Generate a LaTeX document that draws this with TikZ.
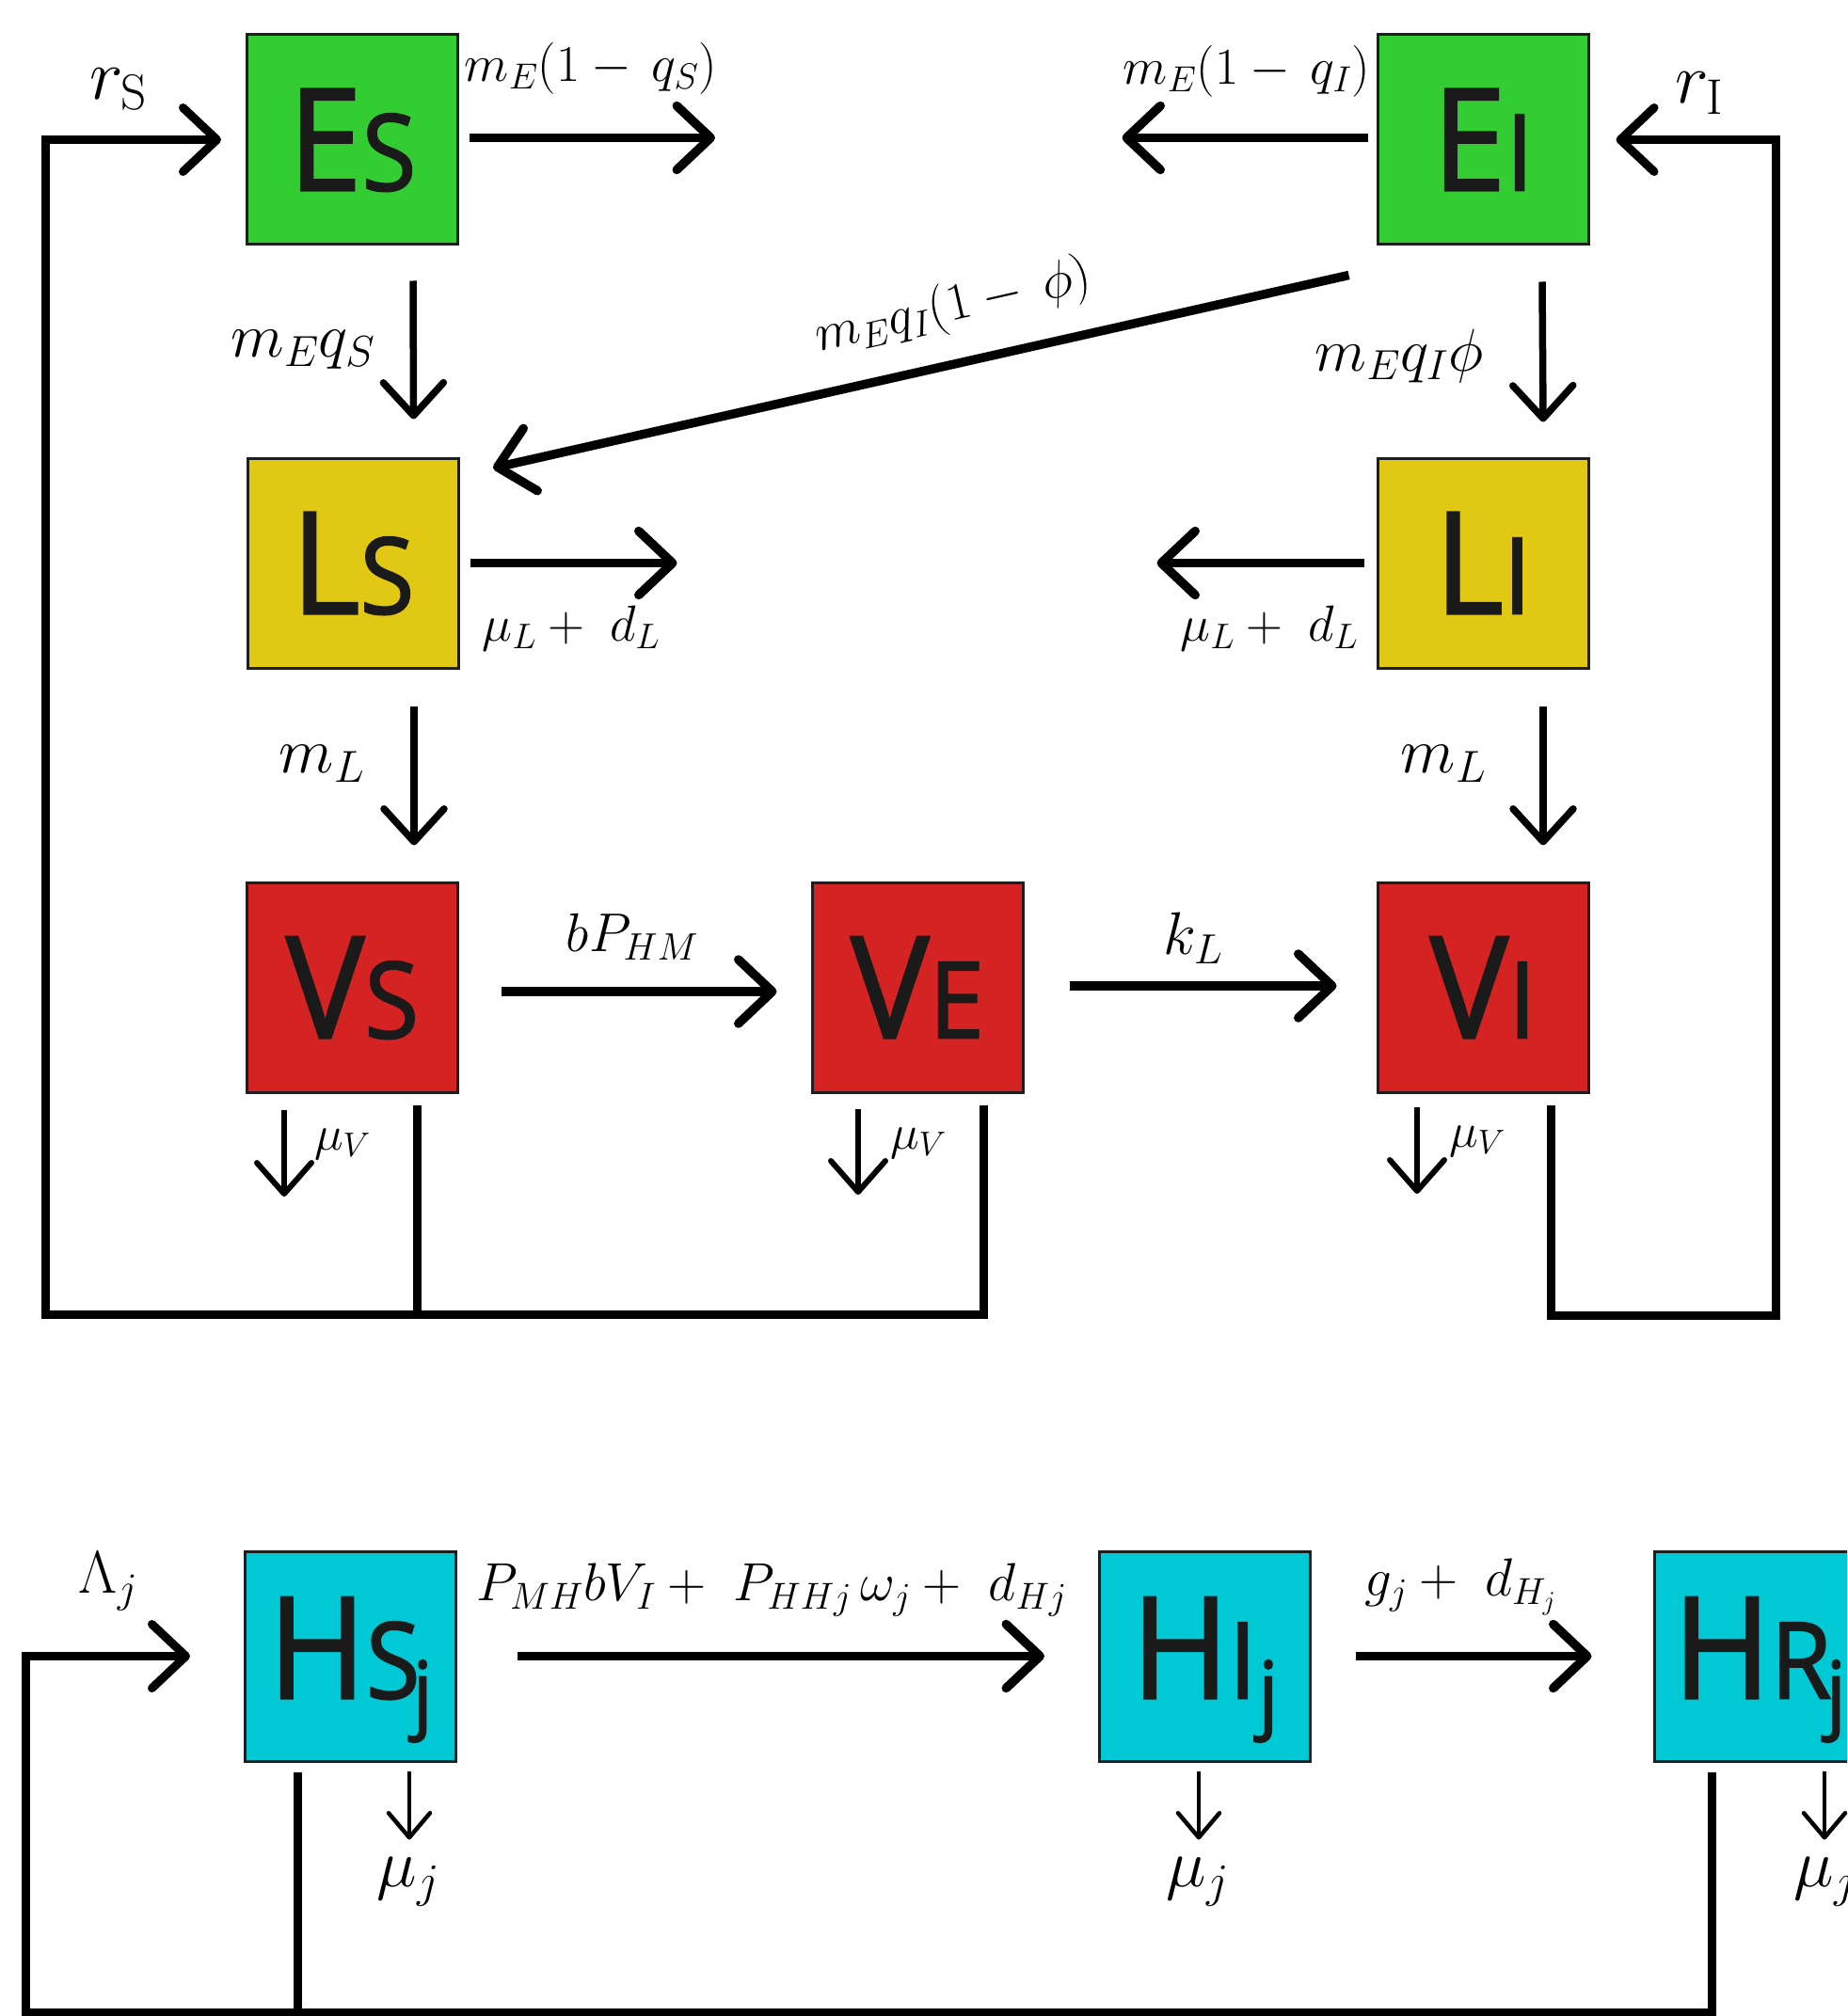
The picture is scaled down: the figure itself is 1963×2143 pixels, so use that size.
\RequirePackage{fix-cm}
\documentclass[tikz,border=0pt]{standalone}
\usepackage{fontspec}
\newfontfamily\boxfont[FakeBold=1.6, FakeStretch=0.93]{Open Sans}
\usetikzlibrary{arrows.meta}
\newcommand\fsz[1]{\fontsize{#1}{#1}\selectfont}
\definecolor{cgreen}{HTML}{33CC33}
\definecolor{cyellow}{HTML}{E1C814}
\definecolor{cred}{HTML}{D52323}
\definecolor{ccyan}{HTML}{00C8D4}
\definecolor{boxline}{HTML}{1E1E1E}
\definecolor{boxtxt}{HTML}{1A1A1A}
\tikzset{
  box/.style={draw=boxline, line width=3pt, minimum width=224pt, minimum height=223pt,
    inner sep=0pt, text=boxtxt, font=\boxfont\fsz{151}, text height=108pt, text depth=0pt},
  hbox/.style={box, text depth=18pt},
  thk/.style={line width=9.5pt},
  loopl/.style={line width=9pt},
  med/.style={line width=7.5pt},
  thn/.style={line width=6pt},
  thnn/.style={line width=4.5pt},
  tipT/.style={-{Straight Barb[length=36pt, width=68pt, round]}},
  tipM/.style={-{Straight Barb[length=35pt, width=64pt, round]}},
  tipS/.style={-{Straight Barb[length=33pt, width=58pt, round]}},
  tipXS/.style={-{Straight Barb[length=26pt, width=44pt, round]}},
  lab/.style={inner sep=0pt, anchor=center},
}
\begin{document}
\begin{tikzpicture}[x=1pt, y=-1pt]
\useasboundingbox (0,0) rectangle (1963,2143);
\clip (0,0) rectangle (1963,2143);

% boxes
\node[box, fill=cgreen]  (Es) at (374.5,148.5) {E\fsz{113}S};
\node[box, fill=cgreen]  (EI) at (1576,148.5) {E\fsz{113}I};
\node[box, fill=cyellow] (Ls) at (375,598.5) {L\fsz{113}S};
\node[box, fill=cyellow] (LI) at (1576,598.5) {L\fsz{113}I};
\node[box, fill=cred]    (Vs) at (374.5,1049.5) {V\fsz{113}S};
\node[box, fill=cred]    (VE) at (975,1049.5) {V\fsz{113}E};
\node[box, fill=cred]    (VI) at (1576,1049.5) {V\fsz{113}I};
\node[hbox, fill=ccyan]  (Hs) at (372.5,1760.5) {H\fsz{113}S\kern-8pt\raisebox{-25pt}{\fsz{90}j}};
\node[hbox, fill=ccyan]  (HI) at (1280.5,1760.5) {H\fsz{113}I\kern2pt\raisebox{-25pt}{\fsz{90}j}};
\node[hbox, fill=ccyan]  (HR) at (1870,1760.5) {H\fsz{113}R\kern-6pt\raisebox{-25pt}{\fsz{90}j}};

% loop-back lines
\coordinate (cBL) at (48,1397);
\coordinate (cBR) at (1887,1398);
\coordinate (cHL) at (27,2139);
\draw[loopl, tipT] ([xshift=-43pt, yshift=-12pt]VE.south east) |- (cBL) |- ([xshift=-26pt]Es.west);
\coordinate (vsd) at ([xshift=-45pt, yshift=-12pt]Vs.south east);
\draw[loopl] (vsd) -- (vsd |- cBL);
\draw[loopl, tipT] ([xshift=-41pt, yshift=-12pt]VI.south east) |- (cBR) |- ([xshift=28pt]EI.east);
\draw[loopl, tipT] ([xshift=-51pt, yshift=-10pt]HR.south) |- (cHL) |- ([xshift=-57pt]Hs.west);
\coordinate (hsd) at ([xshift=-56.5pt, yshift=-10pt]Hs.south);
\draw[loopl] (hsd) -- (hsd |- cHL);

% top row
\draw[thk, tipT] ([xshift=11pt, yshift=2pt]Es.east) -- ([xshift=272pt, yshift=2pt]Es.east);
\draw[thk, tipT] ([xshift=-9pt, yshift=2pt]EI.west) -- ([xshift=-270pt, yshift=2pt]EI.west);
\draw[med, tipM] ([xshift=64.5pt, yshift=-37pt]Es.south) -- ([xshift=64.5pt, yshift=40pt]Ls.north);
\draw[med, tipM] ([xshift=63pt, yshift=-38pt]EI.south) -- ([xshift=64pt, yshift=37pt]LI.north);
\draw[thk, tipT] ([xshift=-29pt, yshift=-31pt]EI.south west) -- ([xshift=35.5pt, yshift=-12pt]Ls.north east);

% L row
\draw[thk, tipT] ([xshift=11pt]Ls.east) -- ([xshift=231pt]Ls.east);
\draw[thk, tipT] ([xshift=-13pt]LI.west) -- ([xshift=-233pt]LI.west);
\draw[med, tipM] ([xshift=65pt, yshift=-39pt]Ls.south) -- ([xshift=65.5pt, yshift=38pt]Vs.north);
\draw[med, tipM] ([xshift=64pt, yshift=-39pt]LI.south) -- ([xshift=64pt, yshift=38pt]VI.north);

% V row
\draw[thk, tipT] ([xshift=45pt, yshift=-4.5pt]Vs.east) -- ([xshift=-36pt, yshift=-4.5pt]VE.west);
\draw[thk, tipT] ([xshift=48pt, yshift=1.5pt]VE.east) -- ([xshift=-42pt, yshift=1.5pt]VI.west);
\draw[thn, tipS] ([xshift=-72.5pt, yshift=-17.5pt]Vs.south) -- ([xshift=-72.5pt, yshift=-109.5pt]Vs.south);
\draw[thn, tipS] ([xshift=-63pt, yshift=-16.5pt]VE.south) -- ([xshift=-63pt, yshift=-107.5pt]VE.south);
\draw[thn, tipS] ([xshift=-70pt, yshift=-14.5pt]VI.south) -- ([xshift=-70pt, yshift=-106.5pt]VI.south);

% H row
\draw[thk, tipT] ([xshift=64pt]Hs.east) -- ([xshift=-57pt]HI.west);
\draw[thk, tipT] ([xshift=47pt]HI.east) -- ([xshift=-65pt]HR.west);
\draw[thnn, tipXS] ([xshift=62.5pt, yshift=-9.5pt]Hs.south) -- ([xshift=62.5pt, yshift=-82pt]Hs.south);
\draw[thnn, tipXS] ([xshift=-6.5pt, yshift=-9.5pt]HI.south) -- ([xshift=-6.5pt, yshift=-82pt]HI.south);
\draw[thnn, tipXS] ([xshift=69pt, yshift=-9.5pt]HR.south) -- ([xshift=69pt, yshift=-82pt]HR.south);

% labels
\node[lab, font=\fsz{76}] (lrS) at (126,95) {$r_{\mathrm{S}}$};
\node[lab, font=\fsz{76}] (lrI) at (1806,99) {$r_{\mathrm{I}}$};
\node[lab, font=\fsz{55}] (lmeS) at (628,73) {$m_E(1-\,q_S)$};
\node[lab, font=\fsz{55}] (lmeI) at (1325,76) {$m_E(1-\,q_I)$};
\node[lab, font=\fsz{66}] (lmeqS) at (322,372) {$m_Eq_S$};
\node[lab, font=\fsz{64}] (lmeqI) at (1487,378) {$m_Eq_I\phi$};
\node[lab, font=\fsz{56}, rotate=12.8] (ldiag) at (1013,327) {$m_Eq_I(1-\,\phi)$};
\node[lab, font=\fsz{54}] (lmuL1) at (607,668) {$\mu_L+\;d_L$};
\node[lab, font=\fsz{54}] (lmuL2) at (1349,668) {$\mu_L+\;d_L$};
\node[lab, font=\fsz{68}] (lmL1) at (342,812) {$m_L$};
\node[lab, font=\fsz{68}] (lmL2) at (1534,812) {$m_L$};
\node[lab, font=\fsz{58}] (lbP) at (672,996) {$bP_{HM}$};
\node[lab, font=\fsz{64}] (lkL) at (1268,997) {$k_L$};
\node[lab, font=\fsz{52}] (lmuV1) at (364,1216) {$\mu_V$};
\node[lab, font=\fsz{52}] (lmuV2) at (976,1215) {$\mu_V$};
\node[lab, font=\fsz{52}] (lmuV3) at (1570,1213) {$\mu_V$};
\node[lab, font=\fsz{64}] (lLam) at (115,1681) {$\Lambda_j$};
\node[lab, font=\fsz{57}] (lPMH) at (820,1690) {$P_{MH}bV_I+\;P_{HHj}\,\omega_j+\;d_{Hj}$};
\node[lab, font=\fsz{57}] (lgj) at (1552,1687) {$g_j+\;d_{H_j}$};
\node[lab, font=\fsz{72}] (lmuj1) at (434,2000) {$\mu_j$};
\node[lab, font=\fsz{72}] (lmuj2) at (1273,2000) {$\mu_j$};
\node[lab, font=\fsz{72}] (lmuj3) at (1940,2000) {$\mu_j$};
\end{tikzpicture}
\end{document}
